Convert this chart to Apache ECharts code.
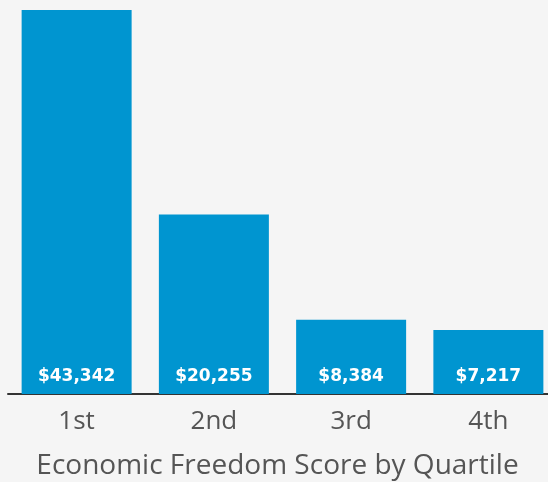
<!DOCTYPE html>
<html>
<head>
<meta charset="utf-8">
<script src="https://cdn.jsdelivr.net/npm/echarts@6/dist/echarts.min.js"></script>
<style>
html, body { margin: 0; padding: 0; background: #f5f5f5; }
#myChart { width: 548px; height: 482px; }
</style>
</head>
<body>
<div id="myChart"></div>
<script>
// quartile data
var quartiles = ['1st', '2nd', '3rd', '4th']
var incomes = [43342, 20255, 8384, 7217]
var axisTitle = 'Economic Freedom Score by Quartile'

function money (v) {
	return '$' + v.toLocaleString('en-US')
}

var myChart = echarts.init(document.getElementById('myChart'))
var option = {
	backgroundColor: '#f5f5f5',
	animation: false,
	grid: {
		left: 8,
		width: 549,
		top: 10,
		bottom: 88,
		containLabel: false,
		outerBoundsMode: 'none'
	},
	xAxis: {
		type: 'category',
		data: quartiles,
		axisTick: { show: false },
		axisLine: { lineStyle: { color: '#333', width: 2 } },
		axisLabel: {
			color: '#555',
			fontFamily: 'Open Sans',
			fontSize: 26,
			margin: 15
		},
		name: axisTitle,
		nameLocation: 'middle',
		nameGap: 58,
		nameTextStyle: {
			color: '#555',
			fontFamily: 'Open Sans',
			fontSize: 28,
			padding: [0, 10, 0, 0]
		}
	},
	yAxis: {
		type: 'value',
		min: 0,
		max: 43342,
		show: false,
		splitLine: { show: false }
	},
	series: [{
		type: 'bar',
		data: incomes,
		barWidth: 110,
		itemStyle: { color: '#0095d0' },
		label: {
			show: true,
			position: 'insideBottom',
			distance: 9,
			color: '#fff',
			fontFamily: 'DejaVu Sans',
			fontWeight: 'bold',
			fontSize: 17,
			formatter: function (p) { return money(p.value) }
		}
	}]
}
myChart.setOption(option)
</script>
</body>
</html>
